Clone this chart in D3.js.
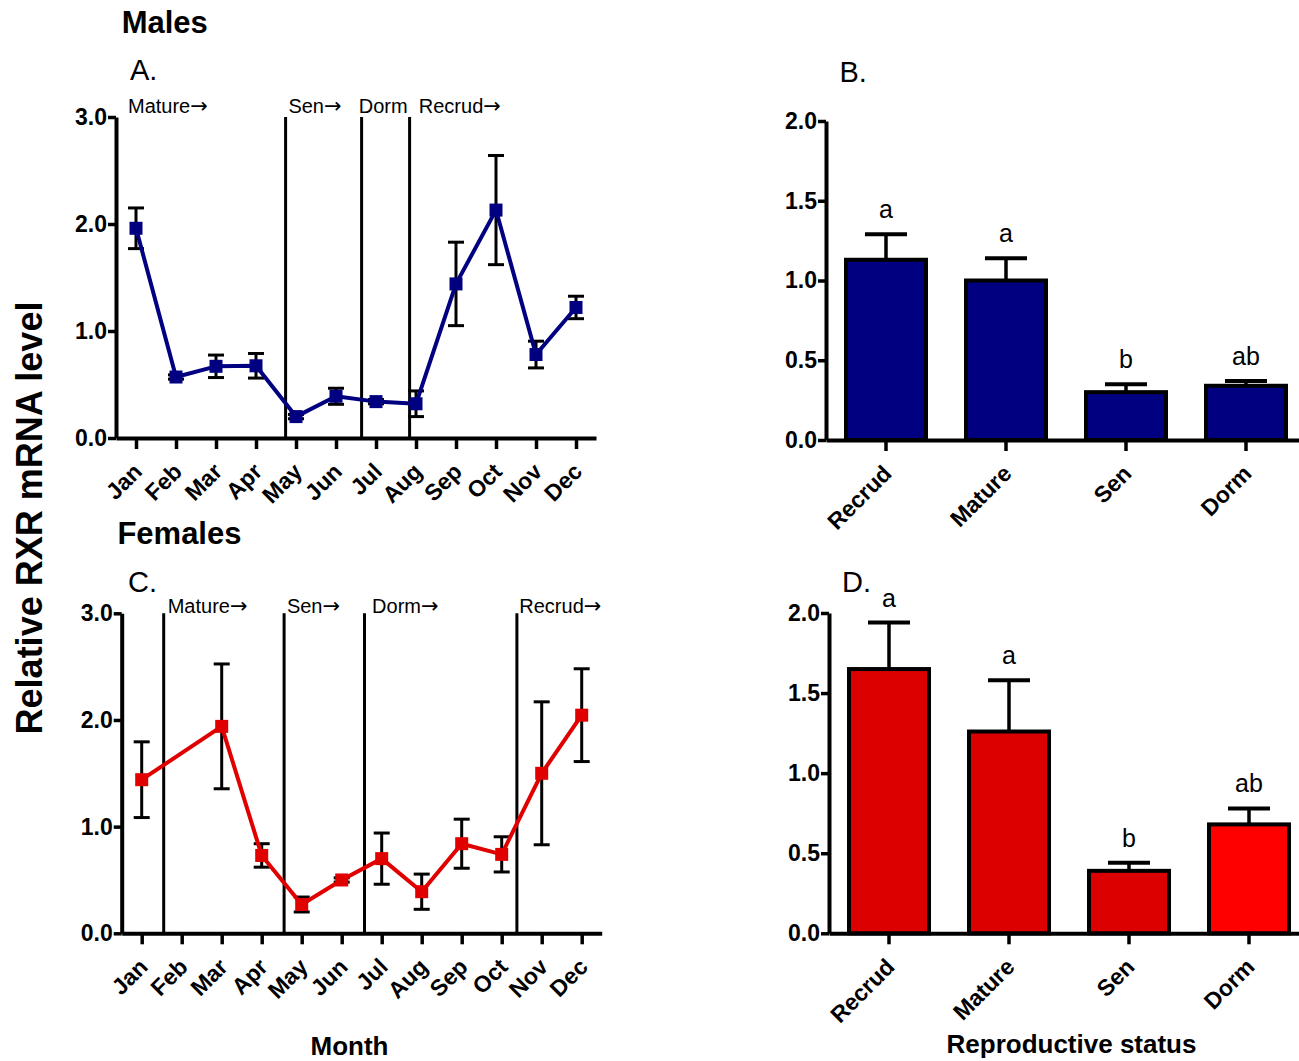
<!DOCTYPE html>
<html>
<head>
<meta charset="utf-8">
<script src="https://cdnjs.cloudflare.com/ajax/libs/d3/7.8.5/d3.min.js"></script>
<style>
  body { margin: 0; background: #fff; }
  svg { display: block; font-family: "Liberation Sans", Arial, sans-serif; }
</style>
</head>
<body>
<svg id="chart" width="1299" height="1061"></svg>
<script>
// monthly values (mean +/- SEM)
const months = ["Jan", "Feb", "Mar", "Apr", "May", "Jun", "Jul", "Aug", "Sep", "Oct", "Nov", "Dec"];
const maleMonthMean = [1.96, 0.57, 0.67, 0.675, 0.20, 0.39, 0.34, 0.32, 1.44, 2.13, 0.78, 1.22];
const maleMonthSem  = [0.19, 0.02, 0.105, 0.115, 0.02, 0.075, 0.02, 0.12, 0.39, 0.51, 0.125, 0.105];
const femaleMonthMean = [1.44, null, 1.94, 0.73, 0.27, 0.50, 0.70, 0.39, 0.84, 0.74, 1.50, 2.045];
const femaleMonthSem  = [0.355, null, 0.585, 0.11, 0.07, 0.02, 0.24, 0.165, 0.23, 0.165, 0.67, 0.435];

// reproductive phases (month index, Jan = 0)
const malePhaseNames = ["Mature", "Sen", "Dorm", "Recrud"];
const malePhaseArrow = [true, true, false, true];
const malePhaseStart = [-0.2, 3.81, 5.57, 7.07];
const maleDividers = [3.74, 5.64, 6.84];
const femalePhaseNames = ["Mature", "Sen", "Dorm", "Recrud"];
const femalePhaseArrow = [true, true, true, true];
const femalePhaseStart = [0.65, 3.63, 5.76, 9.44];
const femaleDividers = [0.55, 3.56, 5.57, 9.38];

// pooled by reproductive status
const statusNames = ["Recrud", "Mature", "Sen", "Dorm"];
const maleStatusMean = [1.13, 1.00, 0.30, 0.34];
const maleStatusSem  = [0.16, 0.14, 0.05, 0.03];
const maleLetters = ["a", "a", "b", "ab"];
const femaleStatusMean = [1.65, 1.26, 0.39, 0.68];
const femaleStatusSem  = [0.29, 0.32, 0.05, 0.10];
const femaleLetters = ["a", "a", "b", "ab"];

const monthTicks = [0, 1, 2, 3];
const statusTicks = [0, 0.5, 1, 1.5, 2];

const svg = d3.select("#chart");

function styleAxis(g) {
  g.select(".domain").attr("stroke", "#000").attr("stroke-width", 4);
  g.selectAll(".tick line").attr("stroke", "#000").attr("stroke-width", 3.5);
  g.selectAll(".tick text")
    .attr("fill", "#000")
    .style("font-size", "23px")
    .style("font-weight", "bold")
    .style("font-family", '"Liberation Sans", Arial, sans-serif');
}

function rotateLabels(g) {
  g.selectAll(".tick text")
    .attr("x", 0).attr("y", 0).attr("dy", 0)
    .attr("text-anchor", "end")
    .attr("transform", "translate(7,35) rotate(-45)");
}

function drawLinePanel(o) {
  const x = d3.scaleLinear().domain([-0.5, 11.5]).range([o.left, o.left + 480]);
  const y = d3.scaleLinear().domain([0, 3]).range([o.bottom, o.top]);
  const g = svg.append("g");

  // phase dividers
  g.selectAll(".divider").data(o.dividers).join("line")
    .attr("x1", d => x(d)).attr("x2", d => x(d))
    .attr("y1", y(3)).attr("y2", y(0))
    .attr("stroke", "#000").attr("stroke-width", 3);

  const ph = g.selectAll(".phase").data(o.phaseNames).join("text")
    .attr("x", (d, i) => x(o.phaseStart[i]))
    .attr("y", y(3) + o.phaseDy)
    .style("font-size", "20px");
  ph.append("tspan").text(d => d);
  ph.filter((d, i) => o.phaseArrow[i]).append("tspan")
    .style("font-family", '"DejaVu Sans", sans-serif')
    .style("font-size", "21px")
    .text("→");

  // axes
  g.append("g")
    .attr("transform", `translate(${o.left},0)`)
    .call(d3.axisLeft(y).tickValues(monthTicks).tickFormat(d3.format(".1f")).tickSize(8).tickSizeOuter(0).tickPadding(1))
    .call(styleAxis);

  g.append("g")
    .attr("transform", `translate(0,${o.bottom})`)
    .call(d3.axisBottom(x).tickValues(d3.range(12)).tickFormat(i => months[i]).tickSize(11).tickSizeOuter(0))
    .call(styleAxis)
    .call(rotateLabels);

  const pts = o.mean.map((m, i) => ({ i, m, s: o.sem[i] })).filter(d => d.m != null);

  // error bars
  const eb = g.append("g").attr("stroke", "#000").attr("stroke-width", 3);
  pts.forEach(d => {
    eb.append("line").attr("x1", x(d.i)).attr("x2", x(d.i)).attr("y1", y(d.m - d.s)).attr("y2", y(d.m + d.s));
    [d.m - d.s, d.m + d.s].forEach(v => {
      eb.append("line").attr("x1", x(d.i) - 8).attr("x2", x(d.i) + 8).attr("y1", y(v)).attr("y2", y(v));
    });
  });

  g.append("path")
    .datum(pts)
    .attr("fill", "none")
    .attr("stroke", o.color)
    .attr("stroke-width", 4)
    .attr("stroke-linejoin", "round")
    .attr("d", d3.line().x(d => x(d.i)).y(d => y(d.m)));

  g.selectAll(".mk").data(pts).join("rect")
    .attr("x", d => x(d.i) - 6.5).attr("y", d => y(d.m) - 6.5)
    .attr("width", 13).attr("height", 13)
    .attr("fill", o.color);
}

function drawBarPanel(o) {
  const x = d3.scaleBand().domain(statusNames).range([o.left, o.left + 480])
    .paddingInner(1 / 3).paddingOuter(1 / 6);
  const y = d3.scaleLinear().domain([0, 2]).range([o.bottom, o.top]);
  const g = svg.append("g");
  const data = statusNames.map((n, i) => ({ n, m: o.mean[i], s: o.sem[i], l: o.letters[i], c: o.colors[i] }));

  // error bars (upper only)
  g.selectAll(".stem").data(data).join("line")
    .attr("x1", d => x(d.n) + x.bandwidth() / 2).attr("x2", d => x(d.n) + x.bandwidth() / 2)
    .attr("y1", d => y(d.m)).attr("y2", d => y(d.m + d.s))
    .attr("stroke", "#000").attr("stroke-width", 3.5);
  g.selectAll(".cap").data(data).join("line")
    .attr("x1", d => x(d.n) + x.bandwidth() / 2 - 21).attr("x2", d => x(d.n) + x.bandwidth() / 2 + 21)
    .attr("y1", d => y(d.m + d.s)).attr("y2", d => y(d.m + d.s))
    .attr("stroke", "#000").attr("stroke-width", 4);

  g.selectAll(".bar").data(data).join("rect")
    .attr("x", d => x(d.n)).attr("width", x.bandwidth())
    .attr("y", d => y(d.m)).attr("height", d => y(0) - y(d.m))
    .attr("fill", d => d.c)
    .attr("stroke", "#000").attr("stroke-width", 4);

  g.selectAll(".letter").data(data).join("text")
    .attr("x", d => x(d.n) + x.bandwidth() / 2)
    .attr("y", d => y(d.m + d.s) - 16)
    .attr("text-anchor", "middle")
    .style("font-size", "25px")
    .text(d => d.l);

  g.append("g")
    .attr("transform", `translate(${o.left},0)`)
    .call(d3.axisLeft(y).tickValues(statusTicks).tickFormat(d3.format(".1f")).tickSize(8).tickSizeOuter(0).tickPadding(1))
    .call(styleAxis);

  g.append("g")
    .attr("transform", `translate(0,${o.bottom})`)
    .call(d3.axisBottom(x).tickSize(11).tickSizeOuter(0))
    .call(styleAxis)
    .call(rotateLabels);
}

drawLinePanel({
  left: 116, top: 117, bottom: 438, color: "#000080",
  mean: maleMonthMean, sem: maleMonthSem,
  dividers: maleDividers, phaseNames: malePhaseNames, phaseArrow: malePhaseArrow,
  phaseStart: malePhaseStart, phaseDy: -4
});
drawLinePanel({
  left: 121.7, top: 613.3, bottom: 933.3, color: "#e00000",
  mean: femaleMonthMean, sem: femaleMonthSem,
  dividers: femaleDividers, phaseNames: femalePhaseNames, phaseArrow: femalePhaseArrow,
  phaseStart: femalePhaseStart, phaseDy: 0
});
drawBarPanel({
  left: 826, top: 121, bottom: 440,
  mean: maleStatusMean, sem: maleStatusSem, letters: maleLetters,
  colors: ["#000080", "#000080", "#000080", "#000080"]
});
drawBarPanel({
  left: 829, top: 613, bottom: 933.3,
  mean: femaleStatusMean, sem: femaleStatusSem, letters: femaleLetters,
  colors: ["#dd0000", "#dd0000", "#dd0000", "#ff0000"]
});

// titles and panel letters
const titles = [
  { t: "Males", x: 121.7, y: 33, size: 31, bold: true },
  { t: "A.", x: 130, y: 80, size: 29, bold: false },
  { t: "Females", x: 117.4, y: 544, size: 31, bold: true },
  { t: "C.", x: 128, y: 592, size: 29, bold: false },
  { t: "B.", x: 839.5, y: 81.7, size: 29, bold: false },
  { t: "D.", x: 842, y: 591.7, size: 29, bold: false }
];
svg.selectAll(".title").data(titles).join("text")
  .attr("x", d => d.x).attr("y", d => d.y)
  .style("font-size", d => d.size + "px")
  .style("font-weight", d => d.bold ? "bold" : "normal")
  .text(d => d.t);

svg.append("text")
  .attr("x", 349.5).attr("y", 1055)
  .attr("text-anchor", "middle")
  .style("font-size", "26px").style("font-weight", "bold")
  .text("Month");

svg.append("text")
  .attr("x", 1071.5).attr("y", 1053)
  .attr("text-anchor", "middle")
  .style("font-size", "26px").style("font-weight", "bold")
  .text("Reproductive status");

svg.append("text")
  .attr("transform", "translate(42,518) rotate(-90)")
  .attr("text-anchor", "middle")
  .style("font-size", "36px").style("font-weight", "bold")
  .text("Relative RXR mRNA level");
</script>
</body>
</html>
